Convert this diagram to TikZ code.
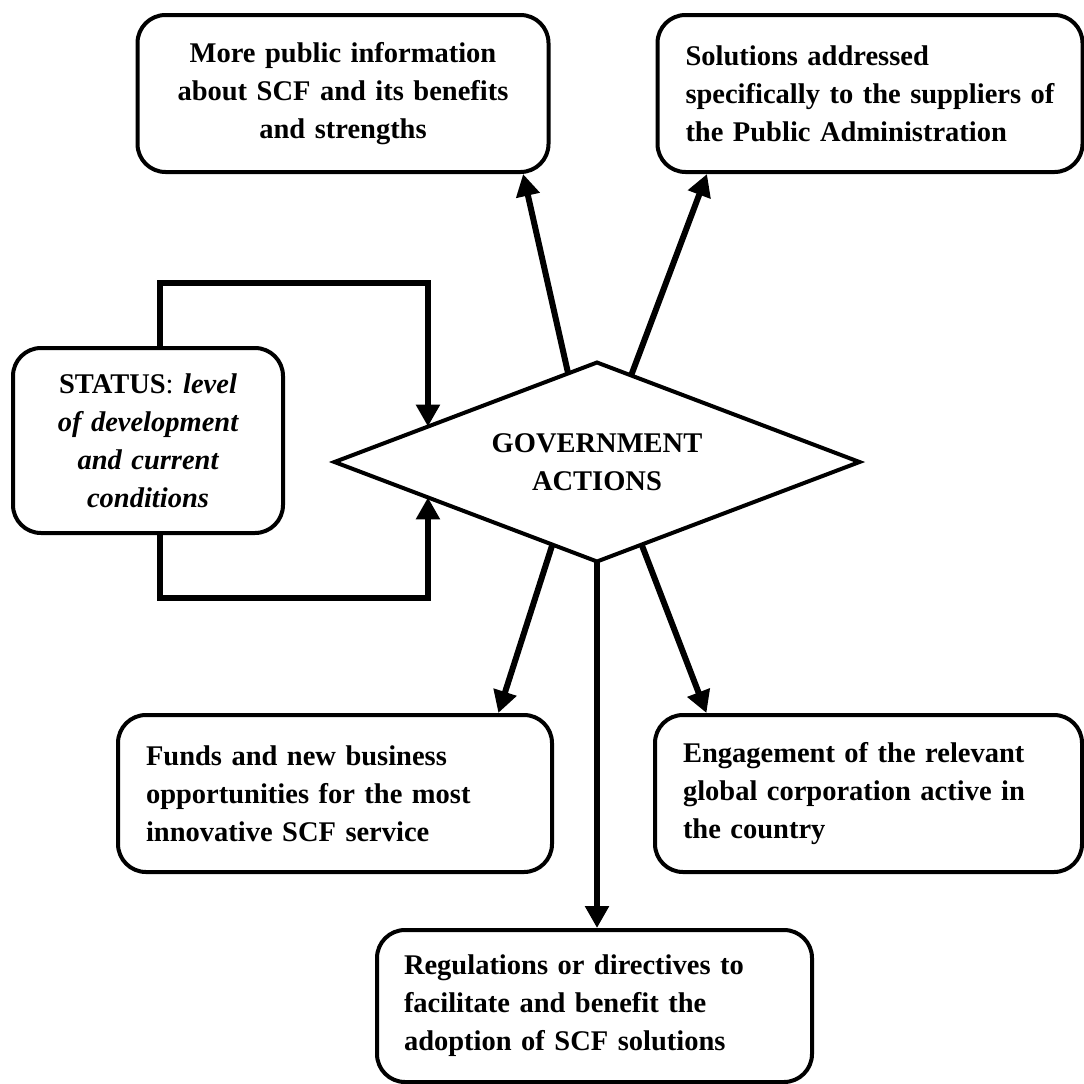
\documentclass[tikz,border=0pt]{standalone}
\usepackage{fontspec}
\setmainfont{Liberation Serif}
\usetikzlibrary{arrows.meta,shapes.geometric,calc}
\begin{document}
\begin{tikzpicture}[x=1pt,y=-1pt,
  txt/.style={font=\fontsize{28.5}{38}\selectfont\bfseries},
  box/.style={txt, draw, line width=4pt, rounded corners=28pt,
    inner xsep=28pt, inner ysep=0pt},
  arr/.style={line width=6pt, -{Triangle[length=22pt,width=23pt]}},
  ]
\fill[white] (0,0) rectangle (1084,1084);
\useasboundingbox (0,0) rectangle (1084,1084);

% outcome boxes
\node[box, align=center, text width=355pt, minimum width=411pt, minimum height=157pt]
  (info) at (343,93.5) {More public information\\ about SCF and its benefits\\ and strengths};
\node[box, align=left, text width=369pt, minimum width=425pt, minimum height=157pt]
  (supp) at (870,93.5) {Solutions addressed\\ specifically to the suppliers of\\ the Public Administration};
\node[box, align=center, text width=214pt, minimum width=270pt, minimum height=185pt]
  (st) at (148,440.5) {STATUS\mdseries:\ \itshape\bfseries level\\ of development\\ and current\\ conditions};
\node[box, align=left, text width=378pt, minimum width=434pt, minimum height=157pt]
  (funds) at (335,793.5) {Funds and new business\\ opportunities for the most\\ innovative SCF service};
\node[box, align=left, text width=371pt, minimum width=427pt, minimum height=157pt]
  (eng) at (868.5,793.5) {Engagement of the relevant\\ global corporation active in\\ the country};
\node[box, align=left, text width=381pt, minimum width=435pt, minimum height=152pt, inner xsep=27pt]
  (reg) at (594.5,1006) {Regulations or directives to\\ facilitate and benefit the\\ adoption of SCF solutions};

% central decision
\node[txt, draw, diamond, line width=4pt, aspect=2.64, inner sep=0pt, outer sep=0pt,
  minimum width=525pt, minimum height=199pt, align=center]
  (gov) at (597,462) {GOVERNMENT\\ ACTIONS};

% actions leading out of the diamond
\draw[arr] ($(gov.west)!0.89!(gov.north)$) -- ($(info.south west)!0.934!(info.south east)$);
\draw[arr] ($(gov.north)!0.13!(gov.east)$) -- ($(supp.south west)!0.12!(supp.south east)$);
\draw[arr] ($(gov.west)!0.83!(gov.south)$) -- ($(funds.north west)!0.873!(funds.north east)$);
\draw[arr] ($(gov.south)!0.17!(gov.east)$) -- ($(eng.north west)!0.124!(eng.north east)$);
\draw[arr] (gov.south) -- (gov.south |- reg.north);

% feedback loop from the status box
\coordinate (loopT) at (0,283);
\coordinate (loopB) at (0,598);
\coordinate (sa) at ($(st.north west)!0.544!(st.north east)$);
\coordinate (sb) at ($(st.south west)!0.544!(st.south east)$);
\coordinate (ta) at ($(gov.west)!0.356!(gov.north)$);
\coordinate (tb) at ($(gov.west)!0.356!(gov.south)$);
\draw[arr] (sa) -- (sa |- loopT) -- (ta |- loopT) -- (ta);
\draw[arr] (sb) -- (sb |- loopB) -- (tb |- loopB) -- (tb);
\end{tikzpicture}
\end{document}
